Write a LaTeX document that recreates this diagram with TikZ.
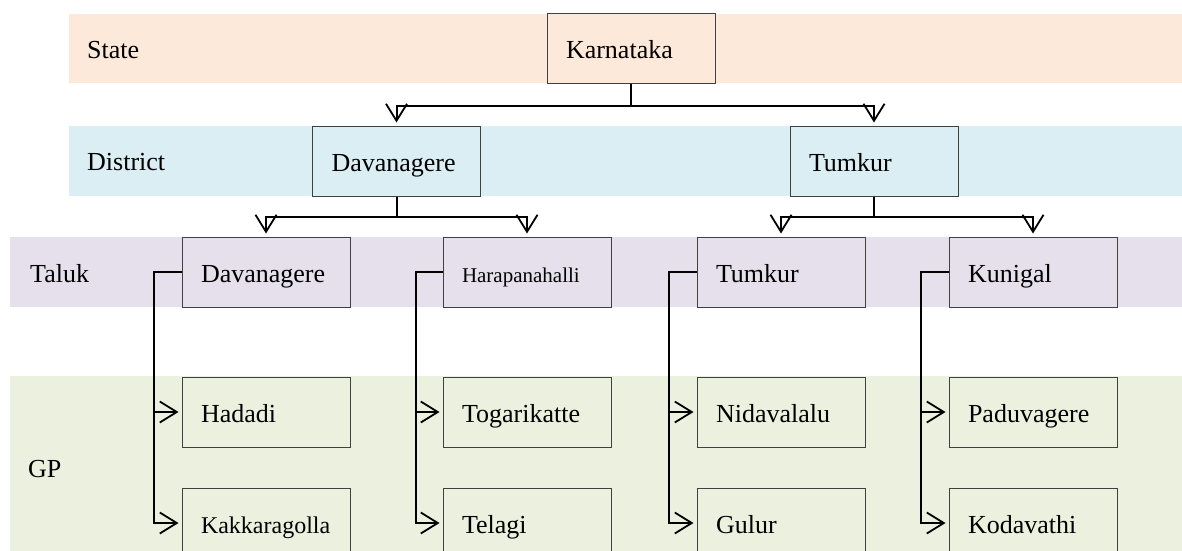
\documentclass[tikz,border=0pt]{standalone}
\usepackage{fontspec}
\setmainfont{Liberation Serif}
\usetikzlibrary{arrows.meta}
\definecolor{cstate}{HTML}{FDE9D9}
\definecolor{cdist}{HTML}{DAEEF3}
\definecolor{ctaluk}{HTML}{E5E0EC}
\definecolor{cgp}{HTML}{EBF1DE}
\definecolor{cborder}{HTML}{404040}
\begin{document}
\begin{tikzpicture}[x=1pt,y=-1pt,
  box/.style={draw=cborder, line width=1pt, rectangle, minimum width=168pt, minimum height=70pt,
    text width=130pt, align=left, inner xsep=19pt, inner ysep=0pt,
    text height=21pt, text depth=1pt, font=\fontsize{26}{30}\selectfont},
  lbl/.style={anchor=base west, inner sep=0pt, font=\fontsize{26}{30}\selectfont},
  conn/.style={draw=black, line width=2pt, -{Straight Barb[length=17pt,width=21pt,line width=1.8pt]}, shorten >=3pt}
]
\useasboundingbox (0,0) rectangle (1182,550);
\begin{scope}
\clip (0,0) rectangle (1182,550);
\fill[white] (0,0) rectangle (1182,550);
% bands
\fill[cstate] (69,14) rectangle (1182,83);
\fill[cdist] (69,126) rectangle (1182,196);
\fill[ctaluk] (10,237) rectangle (1182,307);
\fill[cgp] (10,376) rectangle (1182,560);

% band labels
\node[lbl] (lstate) at (87,58) {State};
\node[lbl] (ldist) at (87,170) {District};
\node[lbl] (ltaluk) at (30,282) {Taluk};
\node[lbl] (lgp) at (28,477) {GP};

% boxes
\node[box, fill=cstate] (kar) at (631,48.5) {Karnataka};
\node[box, fill=cdist] (ddav) at (396.5,161) {Davanagere};
\node[box, fill=cdist] (dtum) at (874,161) {Tumkur};

\node[box, fill=ctaluk] (tdav) at (266,272) {Davanagere};
\node[box, fill=ctaluk, font=\fontsize{21}{25}\selectfont] (thar) at (527,272) {Harapanahalli};
\node[box, fill=ctaluk] (ttum) at (781,272) {Tumkur};
\node[box, fill=ctaluk] (tkun) at (1033,272) {Kunigal};

\node[box, fill=cgp] (g11) at (266,412) {Hadadi};
\node[box, fill=cgp, font=\fontsize{24}{28}\selectfont] (g12) at (266,523) {Kakkaragolla};
\node[box, fill=cgp] (g21) at (527,412) {Togarikatte};
\node[box, fill=cgp] (g22) at (527,523) {Telagi};
\node[box, fill=cgp] (g31) at (781,412) {Nidavalalu};
\node[box, fill=cgp] (g32) at (781,523) {Gulur};
\node[box, fill=cgp] (g41) at (1033,412) {Paduvagere};
\node[box, fill=cgp] (g42) at (1033,523) {Kodavathi};

% connectors state -> district
\draw[conn] (kar.south) -- ++(0,22) -| (ddav.north);
\draw[conn] (kar.south) -- ++(0,22) -| (dtum.north);
% district -> taluk
\draw[conn] (ddav.south) -- ++(0,20) -| (tdav.north);
\draw[conn] (ddav.south) -- ++(0,20) -| (thar.north);
\draw[conn] (dtum.south) -- ++(0,20) -| (ttum.north);
\draw[conn] (dtum.south) -- ++(0,20) -| (tkun.north);
% taluk -> GP
\draw[conn] (tdav.west) -- ++(-28,0) |- (g11.west);
\draw[conn] (tdav.west) -- ++(-28,0) |- (g12.west);
\draw[conn] (thar.west) -- ++(-27,0) |- (g21.west);
\draw[conn] (thar.west) -- ++(-27,0) |- (g22.west);
\draw[conn] (ttum.west) -- ++(-28,0) |- (g31.west);
\draw[conn] (ttum.west) -- ++(-28,0) |- (g32.west);
\draw[conn] (tkun.west) -- ++(-28,0) |- (g41.west);
\draw[conn] (tkun.west) -- ++(-28,0) |- (g42.west);
\end{scope}
\end{tikzpicture}
\end{document}
